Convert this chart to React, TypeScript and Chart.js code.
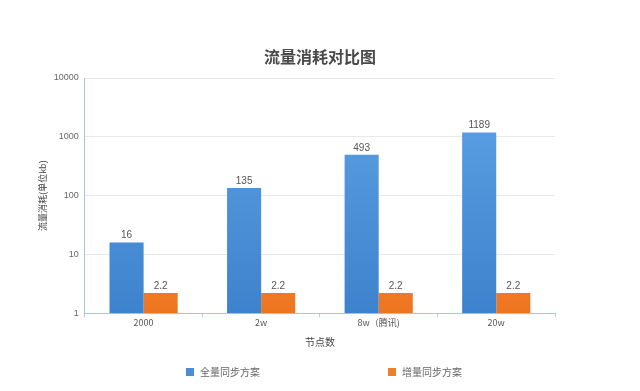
import React, { useEffect, useRef } from "react";
import { Chart, registerables } from "chart.js";

Chart.register(...registerables);

const chartTitle = "流量消耗对比图";
const categories = ["2000", "2w", "8w（腾讯)", "20w"];
const fullSync = [16, 135, 493, 1189];
const incSync = [2.2, 2.2, 2.2, 2.2];
const yTicks = [1, 10, 100, 1000, 10000];
const seriesNames = ["全量同步方案", "增量同步方案"];
const seriesSwatch = ["#4a8ed6", "#f07f2a"];

const CJK = '"Noto Sans CJK SC", "Liberation Sans", sans-serif';
const LAT = '"Liberation Sans", Arial, sans-serif';

const valueLabels = {
  id: "valueLabels",
  afterDatasetsDraw(chart: any) {
    const ctx = chart.ctx;
    ctx.save();
    ctx.font = `10px ${LAT}`;
    ctx.fillStyle = "#555";
    ctx.textAlign = "center";
    ctx.textBaseline = "bottom";
    chart.data.datasets.forEach((ds: any, i: number) => {
      const meta = chart.getDatasetMeta(i);
      meta.data.forEach((bar: any, j: number) => {
        ctx.fillText(String(ds.data[j]), bar.x, bar.y - 2);
      });
    });
    ctx.restore();
  },
};

const decor = {
  id: "decor",
  afterDraw(chart: any) {
    const ctx = chart.ctx;
    ctx.save();
    // title centred on the full canvas
    ctx.font = `bold 16px ${CJK}`;
    ctx.fillStyle = "#4a4a4a";
    ctx.textAlign = "center";
    ctx.textBaseline = "middle";
    ctx.fillText(chartTitle, chart.width / 2, 57);
    // spread legend
    const y = chart.height - 19;
    const xs = [186, 388];
    ctx.font = `10px ${CJK}`;
    ctx.textAlign = "left";
    chart.data.datasets.forEach((ds: any, i: number) => {
      ctx.fillStyle = seriesSwatch[i];
      ctx.fillRect(xs[i], y - 4, 8, 8);
      ctx.fillStyle = "#666";
      ctx.fillText(ds.label, xs[i] + 14, y);
    });
    ctx.restore();
  },
};

function grad(ctx: any, top: string, bottom: string) {
  const chart = ctx.chart;
  const area = chart.chartArea;
  if (!area) return top;
  const g = chart.ctx.createLinearGradient(0, area.top, 0, area.bottom);
  g.addColorStop(0, top);
  g.addColorStop(1, bottom);
  return g;
}

export default function App() {
  const ref = useRef<HTMLCanvasElement>(null);
  useEffect(() => {
    const chart = new Chart(ref.current!, {
      type: "bar",
      data: {
        labels: categories,
        datasets: [
          {
            label: seriesNames[0],
            data: fullSync,
            backgroundColor: (c: any) => grad(c, "#5fa3e6", "#3d82cc"),
            borderWidth: 0,
            categoryPercentage: 0.58,
            barPercentage: 1,
          },
          {
            label: seriesNames[1],
            data: incSync,
            backgroundColor: (c: any) => grad(c, "#fb9a48", "#ee7520"),
            borderWidth: 0,
            categoryPercentage: 0.58,
            barPercentage: 1,
          },
        ],
      },
      options: {
        animation: false,
        responsive: false,
        maintainAspectRatio: false,
        layout: { padding: { top: 78, left: 37, right: 85, bottom: 43 } },
        plugins: {
          title: { display: false },
          legend: { display: false },
          tooltip: { enabled: false },
        },
        scales: {
          x: {
            grid: { drawOnChartArea: false, drawTicks: true, tickLength: 4, color: "#b8cde0", offset: true },
            border: { color: "#a9c6de" },
            ticks: { color: "#555", font: { family: CJK, size: 9 }, padding: 0 },
            title: {
              display: true,
              text: "节点数",
              color: "#444",
              font: { family: CJK, size: 10 },
              padding: { top: 8, bottom: 0 },
            },
          },
          y: {
            type: "logarithmic",
            min: 1,
            max: 10000,
            afterBuildTicks: (scale: any) => {
              scale.ticks = yTicks.map((v) => ({ value: v }));
            },
            grid: { color: "#e8e8e8", drawTicks: false },
            border: { color: "#a9c6de" },
            ticks: {
              color: "#666",
              font: { family: LAT, size: 9 },
              padding: 6,
              callback: (v: any) => String(v),
            },
            title: {
              display: true,
              text: "流量消耗(单位kb)",
              color: "#444",
              font: { family: CJK, size: 9 },
              padding: { top: 0, bottom: 0 },
            },
          },
        },
      },
      plugins: [valueLabels, decor],
    } as any);
    return () => chart.destroy();
  }, []);
  return (
    <div style={{ position: "fixed", left: 0, top: 0, width: 640, height: 391, background: "#fff" }}>
      <canvas ref={ref} width={640} height={391} />
    </div>
  );
}
